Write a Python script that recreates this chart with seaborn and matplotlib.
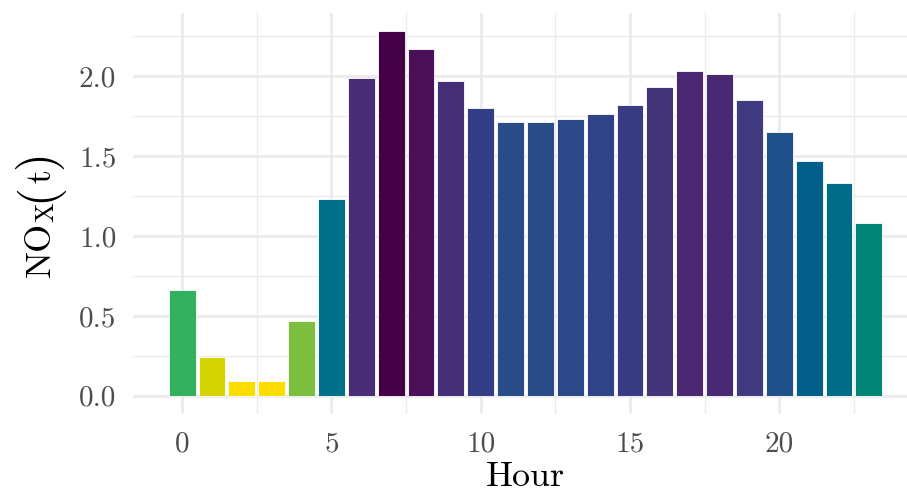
import numpy as np
import pandas as pd
import matplotlib
matplotlib.use("Agg")
import matplotlib.pyplot as plt
import matplotlib.colors as mcolors
import matplotlib.transforms as mtransforms
from matplotlib.font_manager import FontProperties
import seaborn as sns

# Hourly mean NOx emissions
hours = list(range(24))
nox = [0.66, 0.24, 0.09, 0.09, 0.47, 1.23, 1.99, 2.28, 2.17, 1.97, 1.80, 1.71,
       1.71, 1.73, 1.76, 1.82, 1.93, 2.03, 2.01, 1.85, 1.65, 1.47, 1.33, 1.08]
x_ticks = [0, 5, 10, 15, 20]
y_ticks = [0.0, 0.5, 1.0, 1.5, 2.0]
y_tick_labels = ["0.0", "0.5", "1.0", "1.5", "2.0"]

# Fill scale: yellow for the lowest value through teal and blue to deep purple
scale_stops = [
    (0.000, "#FDDC00"), (0.068, "#D4D400"), (0.174, "#7BBF3F"), (0.260, "#33B15E"),
    (0.452, "#008478"), (0.520, "#007088"), (0.566, "#006C88"), (0.630, "#005F8A"),
    (0.712, "#1F508A"), (0.745, "#2A4A88"), (0.781, "#333D85"), (0.804, "#403A80"),
    (0.840, "#423678"), (0.868, "#472D76"), (0.886, "#4B2673"), (0.950, "#4B1259"),
    (1.000, "#440145"),
]
fill_cmap = mcolors.LinearSegmentedColormap.from_list("nox_fill", scale_stops)
norm = mcolors.Normalize(vmin=min(nox), vmax=max(nox))
palette = {h: fill_cmap(norm(v)) for h, v in zip(hours, nox)}

df = pd.DataFrame({"Hour": hours, "NOx": nox})

sns.set_theme(style="white")
plt.rcParams["font.family"] = ["cmr10", "DejaVu Serif"]
plt.rcParams["mathtext.fontset"] = "cm"
plt.rcParams["axes.formatter.use_mathtext"] = True

fig = plt.figure(figsize=(9.07, 4.92), dpi=100)
W, H = 907, 492
left, right, top, bottom = 133, 918, 13, 414
ax = fig.add_axes([left / W, 1 - bottom / H, (right - left) / W, (bottom - top) / H])

grid_col = "#EBEBEB"
for v in [0.25, 0.75, 1.25, 1.75, 2.25]:
    ax.axhline(v, color=grid_col, lw=1.0, zorder=0)
for v in y_ticks:
    ax.axhline(v, color=grid_col, lw=2.0, zorder=0)
for v in [2.5, 7.5, 12.5, 17.5, 22.5]:
    ax.axvline(v, color=grid_col, lw=1.0, zorder=0)
for v in x_ticks:
    ax.axvline(v, color=grid_col, lw=2.0, zorder=0)

sns.barplot(data=df, x="Hour", y="NOx", hue="Hour", palette=palette,
            native_scale=True, width=0.9, dodge=False, legend=False,
            edgecolor="white", linewidth=0.6, saturation=1, ax=ax, zorder=2)

ax.set_xlim(-1.645, 24.645)
ax.set_ylim(-0.114, 2.394)
ax.set_xticks(x_ticks)
ax.set_xticklabels([str(t) for t in x_ticks])
ax.set_yticks(y_ticks)
ax.set_yticklabels(y_tick_labels)
ax.tick_params(axis="both", length=0, labelsize=21, labelcolor="#4D4D4D", pad=12)
for s in ax.spines.values():
    s.set_visible(False)
ax.set_ylabel("")
ax.set_xlabel("Hour", fontsize=26, color="black", labelpad=3)

# y title "NO_X(t)" set piece by piece, rotated, with tall parentheses
pieces = [("NO", 26, 0), ("X", 19, 3), ("(", 35, 0), ("t", 26, 0), (")", 35, 0)]
renderer = fig.canvas.get_renderer()
widths = []
for s, size, _ in pieces:
    w, _, _ = renderer.get_text_width_height_descent(
        s, FontProperties(family="cmr10", size=size), ismath=False)
    widths.append(w)
total = sum(widths)
baseline_x = 50
y_pos = (H - (top + bottom) / 2) - total / 2
ident = mtransforms.IdentityTransform()
for (s, size, drop), w in zip(pieces, widths):
    fig.text(baseline_x + drop, y_pos, s, fontsize=size, family="cmr10",
             color="black", rotation=90, rotation_mode="anchor",
             ha="left", va="baseline", transform=ident)
    y_pos += w

fig.savefig("out.png", dpi=100)
